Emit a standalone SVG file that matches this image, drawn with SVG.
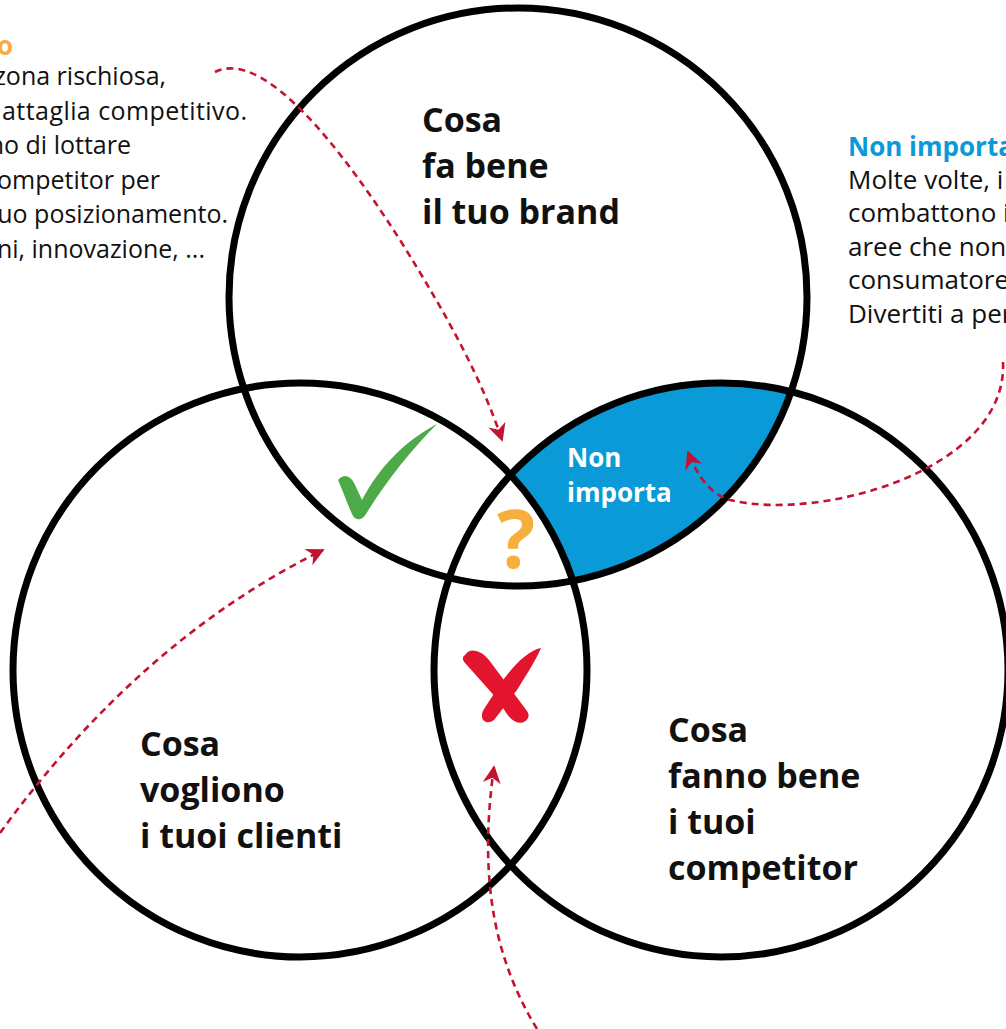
<svg xmlns="http://www.w3.org/2000/svg" width="1006" height="1029" viewBox="0 0 1006 1029">
<style>
.circ{fill:none;stroke:#000;stroke-width:7}
.lbl{font-family:"Open Sans","Liberation Sans",sans-serif;font-weight:700;font-size:34px;fill:#111}
.note{font-family:"Open Sans","Liberation Sans",sans-serif;font-size:25px;fill:#111;text-anchor:end}
.noteR{font-family:"Open Sans","Liberation Sans",sans-serif;font-size:26px;fill:#111}
.ntitle{font-family:"Open Sans","Liberation Sans",sans-serif;font-weight:700;font-size:26px}
.conn{fill:none;stroke:#c41230;stroke-width:2.6;stroke-dasharray:7 5}
</style>
<defs>
<marker id="ah" viewBox="0 0 10 10" refX="9" refY="5" markerWidth="20" markerHeight="18" markerUnits="userSpaceOnUse" orient="auto">
<path d="M0,0 L10,5 L0,10 L3,5 Z" fill="#c41230"/>
</marker>
</defs>
<rect width="1006" height="1029" fill="#fff"/>
<g id="region-non-importa">
<path d="M510.5 474.9 A287 287 0 0 1 791 391.7 A289 289 0 0 1 572.8 580.7 A287 287 0 0 0 510.5 474.9 Z" fill="#0a9ad7"/>
</g>
<g id="circle-brand">
<circle class="circ" cx="518" cy="297" r="289"/>
<text class="lbl" x="422" y="132">Cosa</text>
<text class="lbl" x="422" y="178">fa bene</text>
<text class="lbl" x="422" y="224">il tuo brand</text>
</g>
<g id="circle-clienti">
<circle class="circ" cx="300" cy="670" r="287"/>
<text class="lbl" x="140" y="756">Cosa</text>
<text class="lbl" x="140" y="802">vogliono</text>
<text class="lbl" x="140" y="848">i tuoi clienti</text>
</g>
<g id="circle-competitor">
<circle class="circ" cx="721" cy="670" r="287"/>
<text class="lbl" x="668" y="742">Cosa</text>
<text class="lbl" x="668" y="788">fanno bene</text>
<text class="lbl" x="668" y="834">i tuoi</text>
<text class="lbl" x="668" y="880">competitor</text>
</g>
<g id="label-non-importa">
<text class="ntitle" x="567" y="467" fill="#fff" font-size="29">Non</text>
<text class="ntitle" x="567" y="502" fill="#fff" font-size="29">importa</text>
</g>
<g id="icon-check">
<path d="M338 480 C345 472 352 477 356 487 L362 500 C380 466 405 441 437 424 C411 450 387 480 366 514 C362 521 355 521 352 514 C347 503 343 491 338 480 Z" fill="#4caa48"/>
</g>
<g id="icon-question">
<text x="516" y="568" text-anchor="middle" font-family="Open Sans, Liberation Sans, sans-serif" font-weight="700" font-size="80" fill="#f6ae3c">?</text>
</g>
<g id="icon-x">
<path d="M465 655 C470 647 481 650 489 660 L527 711 C532 718 524 725 516 722 C509 719 505 711 498 700 L466 664 C462 660 462 657 465 655 Z" fill="#e3142d"/>
<path d="M541 648 C529 650 514 665 503 680 L484 709 C478 719 486 726 494 720 L517 690 C528 672 536 660 541 648 Z" fill="#e3142d"/>
</g>
<g id="note-left">
<text class="ntitle" x="-3" y="55" fill="#f6ae3c">o</text>
<text class="note" x="166" y="85">zona rischiosa,</text>
<text class="note" x="2" y="120" style="text-anchor:start" textLength="245" lengthAdjust="spacing">attaglia competitivo.</text>
<text class="note" x="131" y="154">no di lottare</text>
<text class="note" x="160" y="189">ompetitor per</text>
<text class="note" x="228" y="223">uo posizionamento.</text>
<text class="note" x="205" y="258">ni, innovazione, ...</text>
</g>
<g id="note-right">
<text class="ntitle" x="848" y="156" fill="#0a9ad7">Non importa</text>
<text class="noteR" x="848" y="189">Molte volte, i</text>
<text class="noteR" x="848" y="222">combattono i</text>
<text class="noteR" x="848" y="256">aree che non</text>
<text class="noteR" x="848" y="289">consumatore.</text>
<text class="noteR" x="848" y="323">Divertiti a per</text>
</g>
<g id="connectors">
<path class="conn" d="M215 72 C255 52 320 115 400 240 C450 320 482 380 502 440" marker-end="url(#ah)"/>
<path class="conn" d="M0 833 Q140 640 323 550" marker-end="url(#ah)"/>
<path class="conn" d="M537 1029 C495 960 478 880 494 767" marker-end="url(#ah)"/>
<path class="conn" d="M1003 362 C1008 470 820 522 730 500 C712 495 698 478 688 452" marker-end="url(#ah)"/>
</g>
</svg>
